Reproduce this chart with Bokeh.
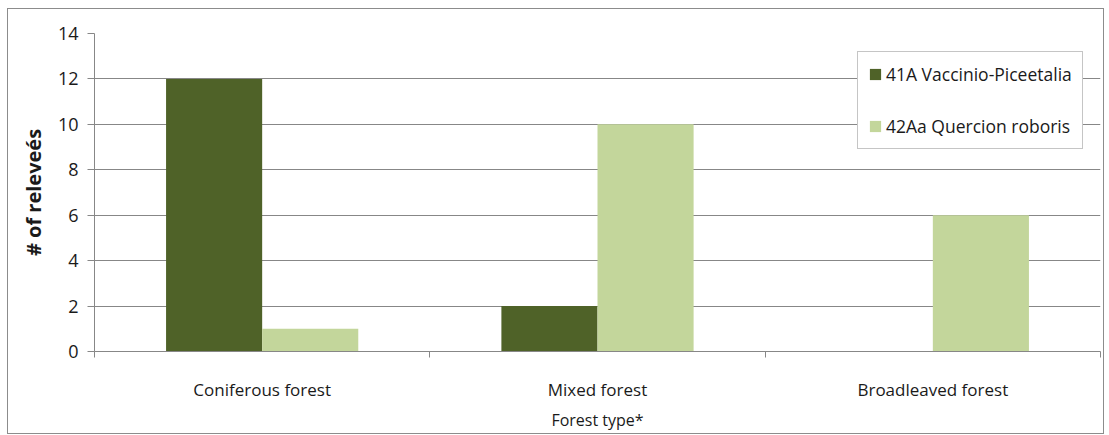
import numpy as np
from bokeh.plotting import figure
from bokeh.models import FixedTicker, Legend, LegendItem, Range1d
from bokeh.embed import file_html
from bokeh.resources import INLINE

# Number of relevés per forest type for the two vegetation units
categories = ["Coniferous forest", "Mixed forest", "Broadleaved forest"]
vaccinio_piceetalia = [12, 2, 0]
quercion_roboris = [1, 10, 6]
series_names = ["41A Vaccinio-Piceetalia", "42Aa Quercion roboris"]
y_ticks = [0, 2, 4, 6, 8, 10, 12, 14]

DARK = "#4F6228"
LIGHT = "#C3D69B"
GRID = "#878787"
TEXT = "#1a1a1a"
FONT = "Open Sans"

n = len(categories)
centers = np.arange(n) + 0.5
bar_w = 0.2866

p = figure(
    frame_width=1006, frame_height=318,
    min_border_left=86, min_border_right=3, min_border_top=24, min_border_bottom=82,
    x_range=Range1d(0, n), y_range=Range1d(0, 14),
    output_backend="svg", toolbar_location=None, tools="",
    margin=(8, 0, 0, 7),
    styles={"border": "1px solid #8c8c8c"},
)
p.outline_line_color = None
p.background_fill_color = "white"
p.border_fill_color = "white"

r1 = p.vbar(x=centers - bar_w / 2, top=vaccinio_piceetalia, width=bar_w,
            fill_color=DARK, line_color=None)
r2 = p.vbar(x=centers + bar_w / 2, top=quercion_roboris, width=bar_w,
            fill_color=LIGHT, line_color=None)

# y axis
yax = p.yaxis[0]
yax.ticker = FixedTicker(ticks=y_ticks)
yax.axis_line_color = GRID
yax.major_tick_line_color = GRID
yax.major_tick_out = 7
yax.major_tick_in = 0
yax.minor_tick_line_color = None
yax.major_label_standoff = 9
yax.major_label_text_font = FONT
yax.major_label_text_font_size = "18px"
yax.major_label_text_color = TEXT
yax.axis_label = "# of releveés"
yax.axis_label_text_font = FONT
yax.axis_label_text_font_size = "20px"
yax.axis_label_text_font_style = "bold"
yax.axis_label_text_color = TEXT
yax.axis_label_standoff = 8

# x axis: labels centred on groups, ticks on group boundaries
xax = p.xaxis[0]
xax.ticker = FixedTicker(ticks=list(centers), minor_ticks=list(range(n + 1)))
xax.major_label_overrides = {float(c): lab for c, lab in zip(centers, categories)}
xax.axis_line_color = GRID
xax.major_tick_line_color = None
xax.major_tick_out = 0
xax.major_tick_in = 0
xax.minor_tick_line_color = GRID
xax.minor_tick_out = 6
xax.minor_tick_in = 0
xax.major_label_standoff = 20
xax.major_label_text_font = FONT
xax.major_label_text_font_size = "17px"
xax.major_label_text_color = TEXT
xax.axis_label = "Forest type*"
xax.axis_label_text_font = FONT
xax.axis_label_text_font_size = "16px"
xax.axis_label_text_font_style = "normal"
xax.axis_label_text_color = TEXT
xax.axis_label_standoff = 5

p.xgrid.grid_line_color = None
p.ygrid.grid_line_color = GRID
p.ygrid.ticker = FixedTicker(ticks=y_ticks[1:])

legend = Legend(
    items=[LegendItem(label=series_names[0], renderers=[r1]),
           LegendItem(label=series_names[1], renderers=[r2])],
    location=(763, 202),
    orientation="vertical",
    border_line_color="#8c8c8c",
    border_line_width=1,
    background_fill_color="white",
    background_fill_alpha=1.0,
    label_text_font=FONT,
    label_text_font_size="17.5px",
    label_text_color=TEXT,
    label_height=20,
    glyph_width=14,
    glyph_height=14,
    label_standoff=4,
    spacing=28,
    padding=10,
    margin=0,
)
p.add_layout(legend, "center")

open("out.html", "w").write(file_html(p, INLINE))
